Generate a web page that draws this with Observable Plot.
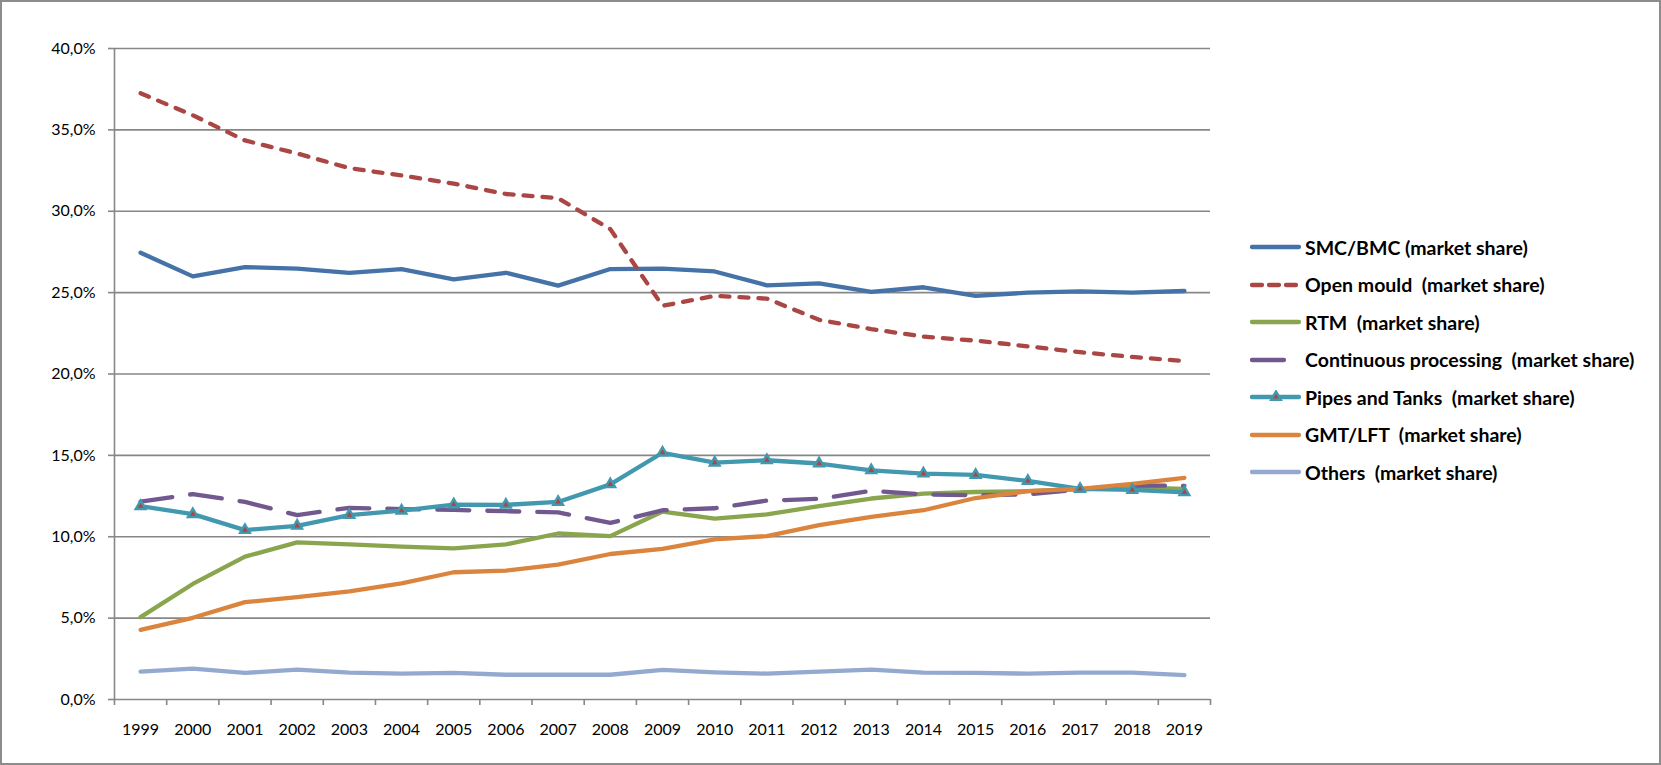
<!DOCTYPE html>
<html>
<head>
<meta charset="utf-8">
<script src="https://cdn.jsdelivr.net/npm/d3@7"></script>
<script src="https://cdn.jsdelivr.net/npm/@observablehq/plot@0.6"></script>
<style>
  html, body { margin: 0; padding: 0; background: #fff; }
  #wrap { position: relative; width: 1661px; height: 765px; overflow: hidden; background: #fff; font-family: Lato, "Open Sans", sans-serif; }
  #chart { position: absolute; left: 0; top: 0; }
  #border { position: absolute; left: 0; top: 0; width: 1661px; height: 765px; box-sizing: border-box; border: 2px solid #8c8c8c; pointer-events: none; }
  #legend { position: absolute; left: 1250px; top: 228px; }
  .row { position: absolute; left: 0; height: 38px; display: flex; align-items: center; white-space: pre; font-weight: 700; font-size: 19.5px; color: #000; }
  .row svg { display: block; margin-right: 3px; }
</style>
</head>
<body>
<div id="wrap">
  <div id="chart"></div>
  <div id="legend"></div>
  <div id="border"></div>
</div>
<script>
// ---- data (values in %) ----
const years = [1999, 2000, 2001, 2002, 2003, 2004, 2005, 2006, 2007, 2008, 2009, 2010, 2011, 2012, 2013, 2014, 2015, 2016, 2017, 2018, 2019];
const yTicks = [0, 5, 10, 15, 20, 25, 30, 35, 40];

const seriesNames = [
  "SMC/BMC (market share)",
  "Open mould  (market share)",
  "RTM  (market share)",
  "Continuous processing  (market share)",
  "Pipes and Tanks  (market share)",
  "GMT/LFT  (market share)",
  "Others  (market share)"
];
const smcBmc     = [27.45, 26.0, 26.57, 26.47, 26.22, 26.45, 25.82, 26.22, 25.43, 26.45, 26.48, 26.3, 25.45, 25.57, 25.04, 25.33, 24.8, 25.0, 25.08, 25.0, 25.1];
const openMould  = [37.25, 35.9, 34.35, 33.55, 32.65, 32.2, 31.7, 31.06, 30.8, 28.9, 24.19, 24.8, 24.63, 23.33, 22.76, 22.3, 22.05, 21.7, 21.34, 21.05, 20.8];
const rtm        = [5.06, 7.1, 8.78, 9.65, 9.53, 9.39, 9.29, 9.53, 10.2, 10.04, 11.55, 11.12, 11.37, 11.88, 12.35, 12.65, 12.75, 12.8, 12.92, 13.04, 12.94];
const continuous = [12.16, 12.62, 12.14, 11.33, 11.78, 11.7, 11.65, 11.57, 11.5, 10.85, 11.63, 11.75, 12.22, 12.33, 12.82, 12.6, 12.55, 12.6, 12.9, 13.15, 13.13];
const pipesTanks = [11.88, 11.39, 10.41, 10.67, 11.33, 11.6, 11.98, 11.96, 12.14, 13.22, 15.16, 14.55, 14.7, 14.5, 14.08, 13.88, 13.8, 13.43, 12.94, 12.88, 12.73];
const gmtLft     = [4.28, 5.02, 5.98, 6.29, 6.65, 7.14, 7.82, 7.92, 8.29, 8.94, 9.25, 9.84, 10.04, 10.71, 11.22, 11.63, 12.38, 12.8, 12.94, 13.25, 13.62];
const others     = [1.71, 1.9, 1.63, 1.84, 1.65, 1.59, 1.63, 1.52, 1.52, 1.52, 1.82, 1.67, 1.59, 1.71, 1.84, 1.65, 1.63, 1.59, 1.65, 1.65, 1.5];

const seriesValues = [smcBmc, openMould, rtm, continuous, pipesTanks, gmtLft, others];
const seriesColors = ["#4572A7", "#AA4643", "#89A54E", "#71588F", "#4198AF", "#DB843D", "#93A9CF"];
const seriesDash   = [null, "9,10", null, "32,18", null, null, null];
const markerFill = "#AA4643";

// ---- build ----
const gridColor = "#878787";
const boundaries = years.map(y => y - 0.5).concat([years[years.length - 1] + 0.5]);
const fmt = d => d.toFixed(1).replace(".", ",") + "%";

const lineMarks = seriesValues.map((vals, s) => {
  const rows = years.map((yr, i) => ({year: yr, value: vals[i]}));
  return Plot.lineY(rows, {
    x: "year", y: "value",
    stroke: seriesColors[s], strokeWidth: 4.3,
    strokeDasharray: seriesDash[s] || undefined,
    strokeLinecap: "round", strokeLinejoin: "round"
  });
});
const pipesRows = years.map((yr, i) => ({year: yr, value: pipesTanks[i]}));

const chart = Plot.plot({
  width: 1661,
  height: 765,
  marginLeft: 114,
  marginRight: 451,
  marginTop: 48,
  marginBottom: 66,
  style: {fontFamily: "Lato, 'Open Sans', sans-serif", background: "transparent"},
  x: {type: "linear", domain: [boundaries[0], boundaries[boundaries.length - 1]], label: null},
  y: {domain: [yTicks[0], yTicks[yTicks.length - 1]], label: null},
  marks: [
    Plot.ruleY(yTicks, {stroke: gridColor, strokeWidth: 1.6}),
    Plot.ruleX([boundaries[0]], {stroke: gridColor, strokeWidth: 1.6}),
    Plot.axisY({ticks: yTicks, tickSize: 6, tickPadding: 13, tickFormat: fmt, fontSize: 16, stroke: gridColor, strokeWidth: 1.6, fill: "#000", label: null}),
    Plot.axisX({ticks: boundaries, tickSize: 6, tickFormat: () => "", stroke: gridColor, strokeWidth: 1.6, label: null}),
    Plot.axisX({ticks: years, tickSize: 0, tickPadding: 24, tickFormat: d => String(d), fontSize: 16, fill: "#000", label: null}),
    ...lineMarks,
    Plot.dot(pipesRows, {x: "year", y: "value", symbol: "triangle", r: 3.6, fill: markerFill, stroke: seriesColors[4], strokeWidth: 2.4})
  ]
});
document.getElementById("chart").appendChild(chart);

// ---- legend ----
const legend = document.getElementById("legend");
const rowGap = 37.5;
seriesNames.forEach((name, s) => {
  const row = document.createElement("div");
  row.className = "row";
  row.style.top = (s * rowGap) + "px";
  const ns = "http://www.w3.org/2000/svg";
  const svg = document.createElementNS(ns, "svg");
  svg.setAttribute("width", 52);
  svg.setAttribute("height", 14);
  const ln = document.createElementNS(ns, "line");
  ln.setAttribute("x1", 2); ln.setAttribute("x2", s === 3 ? 34 : 49);
  ln.setAttribute("y1", 7); ln.setAttribute("y2", 7);
  ln.setAttribute("stroke", seriesColors[s]);
  ln.setAttribute("stroke-width", 4.3);
  ln.setAttribute("stroke-linecap", "round");
  if (s === 1) ln.setAttribute("stroke-dasharray", "10,7");
  svg.appendChild(ln);
  if (s === 4) {
    const tri = document.createElementNS(ns, "path");
    tri.setAttribute("d", d3.symbol(d3.symbolTriangle, 40)());
    tri.setAttribute("transform", "translate(26,7)");
    tri.setAttribute("fill", markerFill);
    tri.setAttribute("stroke", seriesColors[4]);
    tri.setAttribute("stroke-width", 2.4);
    svg.appendChild(tri);
  }
  row.appendChild(svg);
  const t = document.createElement("span");
  t.textContent = name;
  row.appendChild(t);
  legend.appendChild(row);
});
</script>
</body>
</html>
